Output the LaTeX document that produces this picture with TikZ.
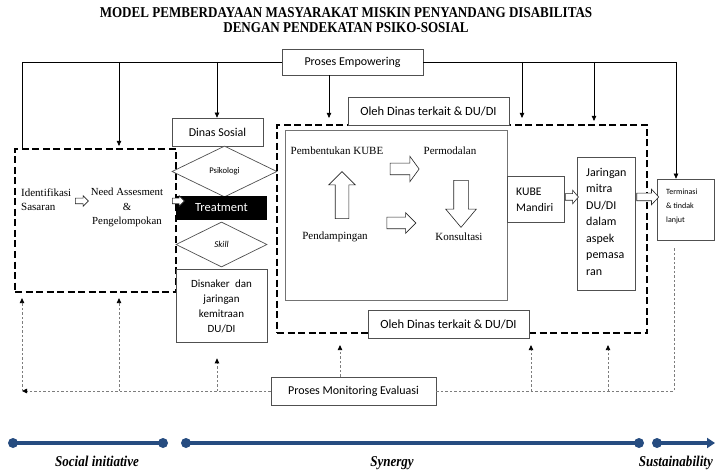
\documentclass[tikz,border=0pt]{standalone}
\usepackage{fontspec}
\setmainfont{Liberation Serif}
\newfontfamily\calib{Carlito}
\newfontfamily\titlef[FakeStretch=0.87]{Liberation Serif}
\usetikzlibrary{arrows.meta,shapes.geometric,shapes.arrows,calc}
\definecolor{tlblue}{RGB}{38,76,128}
\definecolor{bordergray}{RGB}{80,80,80}
\definecolor{mongray}{RGB}{125,125,125}
\begin{document}
\begin{tikzpicture}[x=1pt,y=-1pt,
  box/.style={draw=bordergray, line width=0.7pt, fill=white, inner sep=0pt},
  dbox/.style={draw=black, line width=2.2pt, dash pattern=on 7pt off 3.5pt, inner sep=0pt},
  sans/.style={font=\calib\fontsize{12}{14}\selectfont, inner sep=0pt},
  ser/.style={font=\fontsize{11}{14}\selectfont, inner sep=0pt},
  conn/.style={draw=black, line width=0.6pt, -{Triangle[length=5pt,width=4.5pt]}},
  plain/.style={draw=black, line width=0.6pt},
  mon/.style={draw=mongray, line width=0.8pt, dash pattern=on 2.5pt off 2pt},
  monarr/.style={mon, -{Triangle[length=5pt,width=4.5pt,color=black]}},
  hollow/.style={single arrow, draw=black!85, line width=0.6pt, fill=white, inner xsep=0pt, single arrow head indent=0pt},
  tline/.style={draw=tlblue, line width=3.5pt},
  tdot/.style={circle, fill=tlblue, minimum size=10pt, inner sep=0pt},
  lbl/.style={font=\titlef\bfseries\itshape\fontsize{15}{17}\selectfont, inner sep=0pt},
  ttl/.style={font=\titlef\bfseries\fontsize{15}{17}\selectfont, inner sep=0pt},
]
\useasboundingbox (0,0) rectangle (715,473);

% title
\node[ttl, anchor=base] (title1) at (346,18) {MODEL PEMBERDAYAAN MASYARAKAT MISKIN PENYANDANG DISABILITAS};
\node[ttl, anchor=base] (title2) at (346,33) {DENGAN PENDEKATAN PSIKO-SOSIAL};

% dashed containers
\node[dbox, minimum width=161pt, minimum height=143pt] (idbox) at (95.5,220.5) {};
\node[dbox, minimum width=370pt, minimum height=208pt] (bigd) at (462,229) {};
\node[box, draw=black!55, minimum width=222pt, minimum height=170pt] (inner) at (396,215) {};

% top boxes
\node[box, sans, minimum width=141pt, minimum height=26pt] (pe) at (352.5,62) {Proses Empowering};
\node[box, sans, font=\calib\fontsize{12.5}{14}\selectfont, minimum width=161pt, minimum height=28pt] (oleh1) at (428.5,111) {Oleh Dinas terkait \& DU/DI};
\node[box, sans, font=\calib\fontsize{12.5}{14}\selectfont, minimum width=161pt, minimum height=28pt] (oleh2) at (448.5,324) {Oleh Dinas terkait \& DU/DI};

% left column
\node[ser, align=left, anchor=west] (ident) at (21,200) {Identifikasi\\Sasaran};
\node[ser, align=center, font=\fontsize{10.8}{14.5}\selectfont] (need) at (127,207.5) {Need Assesment\\\&\\Pengelompokan};
\node[hollow, minimum height=13pt, inner ysep=2.5pt, single arrow head extend=2.5pt, single arrow tip angle=90] (ha1) at (80.5,201) {};

% Dinas Sosial column
\node[box, sans, minimum width=91pt, minimum height=28pt] (ds) at (217.5,132) {Dinas Sosial};
\node[diamond, draw=bordergray, line width=0.7pt, fill=white, inner sep=0pt, minimum width=105pt, minimum height=51pt, font=\calib\fontsize{8.6}{10}\selectfont] (psi) at (224.5,171.5) {Psikologi};
\node[fill=black, minimum width=91pt, minimum height=24pt, inner sep=0pt, text=white, font=\calib\fontsize{12.5}{14}\selectfont] (treat) at (221.5,208) {Treatment};
\node[diamond, draw=bordergray, line width=0.7pt, fill=white, inner sep=0pt, minimum width=91pt, minimum height=45pt, font=\calib\itshape\fontsize{9}{10}\selectfont] (skill) at (221.5,244.5) {Skill};
\node[box, minimum width=91pt, minimum height=73pt] (dis) at (221.5,305.5) {};
\node[sans, align=center, font=\calib\fontsize{11}{15}\selectfont] (distxt) at (221.5,306.5) {Disnaker\enspace dan\\jaringan\\kemitraan\\DU/DI};
\node[hollow, minimum height=12pt, inner ysep=2.5pt, single arrow head extend=2.5pt, single arrow tip angle=90] (ha2) at (177,201) {};

% inner KUBE process
\node[ser] (pkube) at (337,151) {Pembentukan KUBE};
\node[ser] (modal) at (450,151) {Permodalan};
\node[ser] (pend) at (335,237) {Pendampingan};
\node[ser] (kons) at (459,237) {Konsultasi};
\node[hollow, minimum height=29pt, inner ysep=5.5pt, single arrow head extend=7pt, single arrow tip angle=108] (ha3) at (402.5,169) {};
\node[hollow, minimum height=29pt, inner ysep=5.5pt, single arrow head extend=4.5pt, single arrow tip angle=90] (ha4) at (398.5,223) {};
\node[hollow, rotate=90, minimum height=47pt, inner ysep=6.5pt, single arrow head extend=6.5pt, single arrow tip angle=90] (ha5) at (342,198.5) {};
\node[hollow, rotate=-90, minimum height=47pt, inner ysep=7pt, single arrow head extend=8pt, single arrow tip angle=80] (ha6) at (461,199.5) {};

% right side
\node[box, minimum width=57pt, minimum height=46pt] (km) at (535.5,199) {};
\node[sans, align=left, anchor=west, font=\calib\fontsize{11.6}{16}\selectfont] (kmtxt) at (516,200) {KUBE\\Mandiri};
\node[box, minimum width=58pt, minimum height=133pt] (jar) at (606,223.5) {};
\node[sans, align=left, anchor=west, font=\calib\fontsize{12}{16.5}\selectfont] (jartxt) at (586,221.5) {Jaringan\\mitra\\DU/DI\\dalam\\aspek\\pemasa\\ran};
\node[box, minimum width=57pt, minimum height=61pt] (term) at (685.5,209.5) {};
\node[sans, align=left, anchor=west, font=\calib\fontsize{8}{14}\selectfont] (termtxt) at (666,206) {Terminasi\\\& tindak\\lanjut};
\node[hollow, minimum height=13pt, inner ysep=3pt, single arrow head extend=3.5pt, single arrow tip angle=100] (ha7) at (570.5,197) {};
\node[hollow, minimum height=22pt, inner ysep=3.5pt, single arrow head extend=4pt, single arrow tip angle=94] (ha8) at (646,197) {};

% monitoring box
\node[box, sans, minimum width=165pt, minimum height=28pt] (mon) at (353.5,391) {Proses Monitoring Evaluasi};

% empowering lines
\coordinate (tL) at (22,62);
\coordinate (tR) at (676,62);
\coordinate (x119) at (119,62);
\coordinate (x217) at (217,62);
\coordinate (x329) at (329,62);
\coordinate (x522) at (522,62);
\coordinate (x594) at (594,62);
\draw[plain] (pe.west) -- (tL) -- (idbox.north -| tL);
\draw[plain] (pe.east) -- (tR);
\draw[conn] (tR) -- (term.north -| tR);
\draw[conn, shorten >=2pt] (x119) -- (idbox.north -| x119);
\draw[conn] (x217) -- (ds.north -| x217);
\draw[conn, shorten >=6pt] (pe.south -| x329) -- (bigd.north -| x329);
\draw[conn, shorten >=6pt] (x522) -- (bigd.north -| x522);
\draw[conn, shorten >=3pt] (x594) -- (bigd.north -| x594);

% monitoring lines
\coordinate (mL) at (22,391);
\coordinate (mR) at (674,391);
\coordinate (m119) at (119,391);
\coordinate (m217) at (217,391);
\coordinate (m340) at (340,391);
\coordinate (m531) at (531,391);
\coordinate (m608) at (608,391);
\draw[monarr] (mon.west) -- (mL);
\draw[monarr, shorten >=5pt] (mL) -- (idbox.south -| mL);
\draw[monarr, shorten >=5pt] (m119) -- (idbox.south -| m119);
\draw[monarr, shorten >=16pt] (m217) -- (dis.south -| m217);
\draw[monarr, shorten >=11pt] (mon.north -| m340) -- (bigd.south -| m340);
\draw[monarr, shorten >=11pt] (m531) -- (bigd.south -| m531);
\draw[monarr, shorten >=11pt] (m608) -- (bigd.south -| m608);
\draw[mon, shorten >=7pt] (mon.east) -- (mR) -- (term.south -| mR);

% timeline
\coordinate (c1) at (13,443);
\coordinate (c2) at (163,443);
\coordinate (c3) at (186,443);
\coordinate (c4) at (639,443);
\coordinate (c5) at (657,443);
\coordinate (c6) at (715,443);
\draw[tline] (c1) -- (c2);
\draw[tline] (c3) -- (c4);
\draw[tline, -{Triangle[length=8pt,width=10pt]}] (c5) -- (c6);
\node[tdot] (d1) at (c1) {};
\node[tdot] (d2) at (c2) {};
\node[tdot] (d3) at (c3) {};
\node[tdot] (d4) at (c4) {};
\node[tdot] (d5) at (c5) {};
\node[lbl, anchor=base] (soc) at (97,466) {Social initiative};
\node[lbl, anchor=base] (syn) at (392,466) {Synergy};
\node[lbl, anchor=base east] (sus) at (713,466) {Sustainability};
\end{tikzpicture}
\end{document}
